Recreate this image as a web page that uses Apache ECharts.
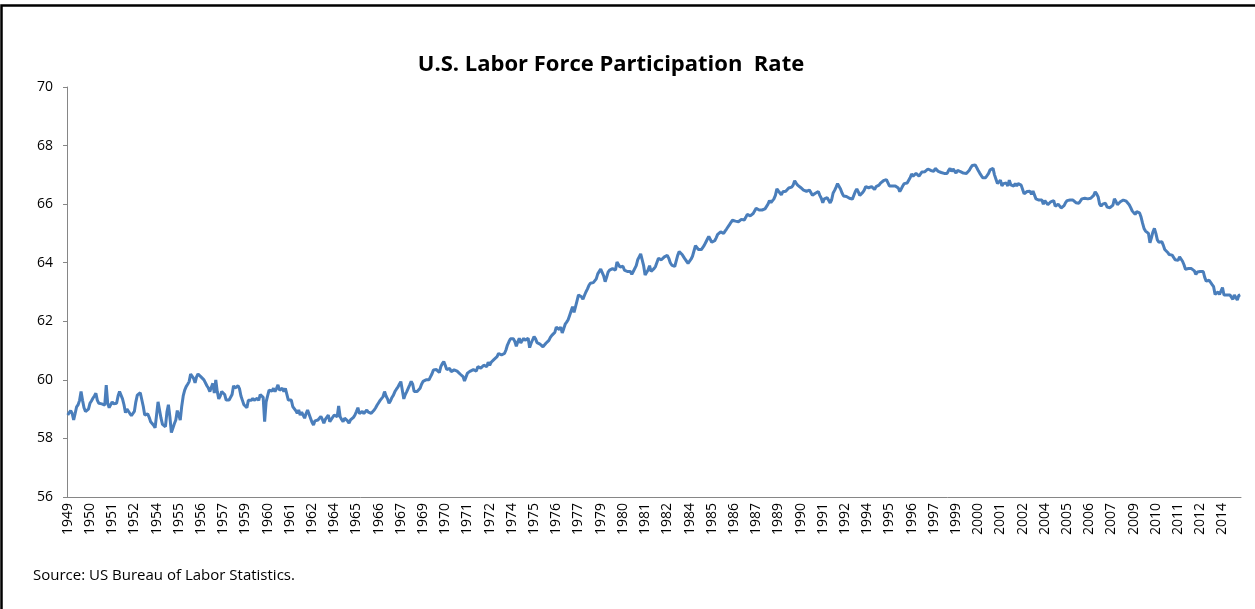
<!DOCTYPE html>
<html>
<head>
<meta charset="utf-8">
<title>U.S. Labor Force Participation Rate</title>
<script src="https://cdn.jsdelivr.net/npm/echarts@6/dist/echarts.min.js"></script>
<style>
    html,
    body {
        margin: 0;
        padding: 0;
        background: #ffffff;
    }
    #chart {
        width: 1255px;
        height: 609px;
    }
</style>
</head>
<body>
<div id="chart"></div>
<script>
// monthly participation rate (%), one row per year, Jan 1949 .. Jan 2015
var firstYear = 1949;
var lastYear = 2015;
var lastMonth = 1;

var rate1940s = [
    58.8, 58.88, 58.95, 58.85, 58.63, 58.85, 59.08, 59.15, 59.3, 59.6, 59.3, 59.05,
];
var rate1950s = [
    58.92, 58.88, 59.0, 59.2, 59.28, 59.37, 59.45, 59.54, 59.3, 59.2, 59.25, 59.18,
    59.14, 59.14, 59.82, 59.2, 59.05, 59.1, 59.25, 59.18, 59.15, 59.2, 59.45, 59.6,
    59.55, 59.35, 59.15, 58.88, 59.0, 59.05, 58.85, 58.78, 58.75, 58.92, 59.25, 59.48,
    59.52, 59.56, 59.6, 59.1, 58.8, 58.75, 58.84, 58.72, 58.57, 58.52, 58.45, 58.36,
    58.8, 59.25, 59.2, 58.69, 58.48, 58.45, 58.4, 58.9, 59.15, 58.74, 58.2, 58.35,
    58.5, 58.63, 58.95, 58.8, 58.63, 59.1, 59.45, 59.65, 59.77, 59.85, 59.94, 60.2,
    60.18, 60.05, 59.9, 60.1, 60.2, 60.15, 60.1, 60.05, 60.0, 59.95, 59.8, 59.72,
    59.6, 59.75, 59.88, 59.55, 60.0, 59.6, 59.35, 59.45, 59.6, 59.65, 59.5, 59.31,
    59.3, 59.31, 59.31, 59.5, 59.8, 59.72, 59.68, 59.8, 59.7, 59.45, 59.3, 59.15,
    59.1, 59.05, 59.3, 59.25, 59.3, 59.37, 59.3, 59.3, 59.37, 59.3, 59.5, 59.54,
];
var rate1960s = [
    59.4, 58.57, 59.25, 59.45, 59.65, 59.6, 59.62, 59.71, 59.6, 59.7, 59.83, 59.65,
    59.68, 59.71, 59.6, 59.71, 59.65, 59.31, 59.31, 59.31, 59.09, 59.09, 58.95, 58.86,
    58.97, 58.8, 58.9, 58.88, 58.69, 58.85, 58.97, 58.97, 58.69, 58.55, 58.46, 58.6,
    58.63, 58.63, 58.63, 58.75, 58.65, 58.52, 58.65, 58.69, 58.8, 58.57, 58.65, 58.69,
    58.8, 58.77, 58.74, 59.11, 58.74, 58.65, 58.57, 58.69, 58.72, 58.6, 58.52, 58.63,
    58.68, 58.72, 58.8, 58.92, 59.05, 58.85, 58.8, 58.92, 58.85, 58.88, 58.97, 58.9,
    58.86, 58.86, 58.86, 58.97, 59.05, 59.14, 59.22, 59.3, 59.35, 59.43, 59.6, 59.45,
    59.35, 59.2, 59.28, 59.4, 59.48, 59.6, 59.68, 59.75, 59.85, 59.94, 59.94, 59.35,
    59.5, 59.6, 59.65, 59.83, 59.95, 59.85, 59.6, 59.54, 59.6, 59.65, 59.71, 59.85,
    59.95, 60.0, 60.0, 60.0, 60.0, 60.1, 60.2, 60.34, 60.34, 60.35, 60.39, 60.25,
];
var rate1970s = [
    60.45, 60.55, 60.62, 60.5, 60.35, 60.3, 60.39, 60.28, 60.3, 60.34, 60.39, 60.3,
    60.34, 60.2, 60.15, 60.11, 59.96, 60.0, 60.23, 60.17, 60.3, 60.25, 60.35, 60.4,
    60.3, 60.45, 60.5, 60.4, 60.35, 60.5, 60.55, 60.45, 60.6, 60.5, 60.6, 60.65,
    60.7, 60.74, 60.79, 60.9, 60.92, 60.85, 60.82, 60.9, 61.02, 61.19, 61.3, 61.4,
    61.42, 61.4, 61.31, 61.15, 61.3, 61.42, 61.26, 61.31, 61.42, 61.35, 61.38, 61.42,
    61.1, 61.25, 61.31, 61.48, 61.4, 61.27, 61.31, 61.22, 61.19, 61.13, 61.13, 61.25,
    61.28, 61.35, 61.45, 61.52, 61.48, 61.62, 61.8, 61.76, 61.72, 61.8, 61.6, 61.74,
    61.9, 61.97, 62.05, 62.2, 62.35, 62.5, 62.3, 62.35, 62.7, 62.9, 62.85, 62.84,
    62.75, 62.88, 63.0, 63.1, 63.22, 63.3, 63.3, 63.32, 63.35, 63.45, 63.62, 63.68,
    63.78, 63.75, 63.55, 63.35, 63.5, 63.68, 63.75, 63.75, 63.8, 63.85, 63.75, 64.02,
];
var rate1980s = [
    63.98, 63.85, 63.9, 63.88, 63.75, 63.72, 63.7, 63.66, 63.7, 63.6, 63.7, 63.75,
    63.9, 64.1, 64.2, 64.3, 64.32, 63.9, 63.58, 63.62, 63.75, 63.9, 63.7, 63.72,
    63.8, 63.87, 63.9, 64.15, 64.15, 64.1, 64.12, 64.2, 64.21, 64.25, 64.15, 64.0,
    63.92, 63.9, 63.87, 63.92, 64.25, 64.38, 64.32, 64.28, 64.2, 64.12, 64.05, 63.98,
    64.04, 64.12, 64.22, 64.4, 64.58, 64.55, 64.45, 64.43, 64.45, 64.52, 64.6, 64.7,
    64.8, 64.9, 64.86, 64.7, 64.66, 64.75, 64.85, 64.97, 65.02, 65.05, 65.02, 65.0,
    65.08, 65.15, 65.2, 65.3, 65.38, 65.45, 65.46, 65.42, 65.46, 65.4, 65.45, 65.48,
    65.52, 65.46, 65.55, 65.65, 65.69, 65.6, 65.6, 65.68, 65.74, 65.86, 65.8, 65.8,
    65.85, 65.8, 65.8, 65.84, 65.9, 66.0, 66.12, 66.05, 66.08, 66.18, 66.3, 66.52,
    66.45, 66.4, 66.32, 66.42, 66.48, 66.44, 66.5, 66.55, 66.5, 66.58, 66.65, 66.8,
];
var rate1990s = [
    66.72, 66.65, 66.62, 66.57, 66.52, 66.48, 66.48, 66.44, 66.46, 66.48, 66.46, 66.3,
    66.28, 66.37, 66.43, 66.43, 66.3, 66.2, 66.05, 66.18, 66.15, 66.22, 66.26, 66.04,
    66.15, 66.38, 66.47, 66.58, 66.7, 66.68, 66.52, 66.38, 66.28, 66.26, 66.26, 66.22,
    66.2, 66.2, 66.17, 66.16, 66.43, 66.52, 66.42, 66.3, 66.28, 66.4, 66.48, 66.6,
    66.62, 66.56, 66.6, 66.6, 66.6, 66.5, 66.6, 66.65, 66.65, 66.72, 66.77, 66.8,
    66.85, 66.84, 66.88, 66.62, 66.6, 66.62, 66.65, 66.62, 66.6, 66.55, 66.43, 66.52,
    66.62, 66.7, 66.71, 66.72, 66.76, 66.9, 67.03, 66.96, 67.02, 67.05, 67.05, 66.96,
    66.96, 67.1, 67.11, 67.11, 67.15, 67.2, 67.14, 67.15, 67.16, 67.12, 67.22, 67.17,
    67.12, 67.11, 67.08, 67.05, 67.05, 67.05, 67.05, 67.15, 67.22, 67.12, 67.2, 67.18,
    67.06, 67.15, 67.15, 67.11, 67.11, 67.06, 67.05, 67.05, 67.1, 67.16, 67.25, 67.32,
];
var rate2000s = [
    67.34, 67.34, 67.28, 67.15, 67.06, 67.0, 66.9, 66.88, 66.9, 66.94, 67.05, 67.17,
    67.22, 67.22, 67.0, 66.85, 66.7, 66.65, 66.82, 66.62, 66.7, 66.75, 66.72, 66.62,
    66.82, 66.66, 66.6, 66.62, 66.7, 66.62, 66.7, 66.68, 66.65, 66.5, 66.35, 66.35,
    66.43, 66.48, 66.44, 66.33, 66.45, 66.44, 66.18, 66.14, 66.14, 66.14, 66.14, 66.0,
    66.12, 66.06, 65.98, 66.02, 66.08, 66.12, 66.12, 65.93, 65.97, 66.0, 65.95, 65.87,
    65.92, 65.95, 66.05, 66.12, 66.14, 66.14, 66.18, 66.14, 66.1, 66.05, 66.03, 66.03,
    66.08, 66.18, 66.15, 66.2, 66.16, 66.18, 66.2, 66.2, 66.25, 66.3, 66.42, 66.35,
    66.25, 66.0, 65.93, 66.0, 66.02, 66.03, 65.9, 65.95, 65.88, 65.92, 65.97, 66.18,
    66.1, 65.98, 66.02, 66.08, 66.14, 66.14, 66.14, 66.1, 66.05, 65.98, 65.88, 65.77,
    65.78, 65.65, 65.74, 65.74, 65.7, 65.56, 65.35, 65.17, 65.08, 65.03, 65.0, 64.68,
];
var rate2010s = [
    64.85, 65.05, 65.17, 65.0, 64.78, 64.7, 64.66, 64.72, 64.6, 64.45, 64.48, 64.35,
    64.28, 64.26, 64.26, 64.21, 64.1, 64.04, 64.08, 64.2, 64.15, 64.05, 63.93, 63.78,
    63.75, 63.8, 63.75, 63.8, 63.81, 63.72, 63.6, 63.68, 63.7, 63.7, 63.7, 63.7,
    63.5, 63.37, 63.35, 63.4, 63.36, 63.25, 63.18, 62.92, 62.96, 63.0, 62.92, 62.9,
    63.15, 62.9, 62.9, 62.9, 62.9, 62.9, 62.84, 62.75, 62.9, 62.84, 62.73, 62.88,
    62.9,
];

// y axis ticks
var yMin = 56;
var yMax = 70;
var yStep = 2;

var rates = [].concat(rate1940s, rate1950s, rate1960s, rate1970s, rate1980s, rate1990s, rate2000s, rate2010s);

// month categories, label shows the year only
var months = [];
for (var y = firstYear; y <= lastYear; y++) {
    for (var m = 1; m <= 12; m++) {
        if (y === lastYear && m > lastMonth) break;
        months.push(y + "-" + (m < 10 ? "0" + m : m));
    }
}

var chart = echarts.init(document.getElementById("chart"));
var option = {
    animation: false,
    backgroundColor: "#ffffff",
    title: {
        text: "U.S. Labor Force Participation  Rate",
        left: 606,
        top: 49,
        textAlign: "center",
        textStyle: {
            fontFamily: "Open Sans",
            fontWeight: "bold",
            fontSize: 22,
            color: "#000000",
        },
    },
    graphic: [
        {
            type: "rect",
            shape: { x: 1.5, y: 5.5, width: 1400, height: 800 },
            style: { fill: null, stroke: "#000000", lineWidth: 2.5 },
            silent: true,
        },
        {
            type: "text",
            left: 33,
            top: 568,
            style: {
                text: "Source: US Bureau of Labor Statistics.",
                fontFamily: "Open Sans",
                fontSize: 15,
                fill: "#000000",
            },
        },
    ],
    grid: {
        left: 67,
        right: 14,
        top: 87,
        bottom: 112,
    },
    xAxis: {
        type: "category",
        data: months,
        boundaryGap: true,
        axisLine: { lineStyle: { color: "#868686", width: 1 } },
        axisTick: {
            interval: 1,
            length: 4,
            lineStyle: { color: "#868686" },
        },
        axisLabel: {
            interval: 14,
            rotate: 90,
            margin: 6,
            fontFamily: "Open Sans",
            fontSize: 14,
            color: "#000000",
            formatter: function (v) {
                return v.slice(0, 4);
            },
        },
        splitLine: { show: false },
    },
    yAxis: {
        type: "value",
        min: yMin,
        max: yMax,
        interval: yStep,
        axisLine: { show: true, lineStyle: { color: "#868686", width: 1 } },
        axisTick: { show: true, length: 4, lineStyle: { color: "#868686" } },
        axisLabel: {
            margin: 14,
            fontFamily: "Open Sans",
            fontSize: 14,
            color: "#000000",
        },
        splitLine: { show: false },
    },
    series: [
        {
            name: "Participation rate",
            type: "line",
            data: rates,
            symbol: "none",
            lineStyle: { color: "#4A7EBB", width: 3 },
        },
    ],
};
chart.setOption(option);
</script>
</body>
</html>
